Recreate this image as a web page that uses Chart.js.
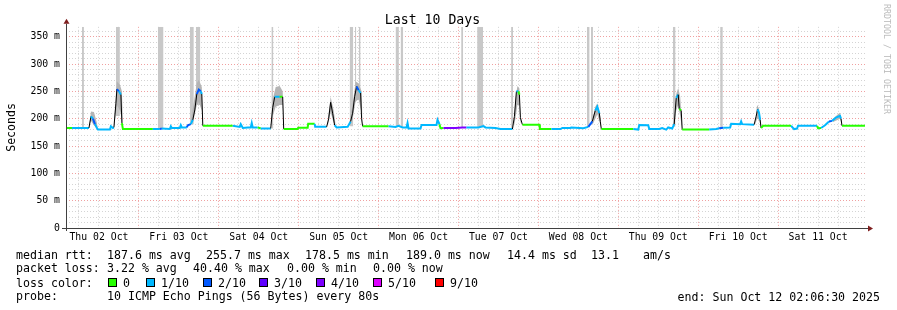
<!DOCTYPE html>
<html>
<head>
<meta charset="utf-8">
<script src="https://cdn.jsdelivr.net/npm/chart.js@4.4.1/dist/chart.umd.min.js"></script>
<style>
    body { margin: 0; background: #fff; }
    #wrap { position: relative; width: 897px; height: 310px; font-family: "DejaVu Sans Mono", monospace; font-size: 11.6px; color: #000; }
    #c { position: absolute; left: 0; top: 0; }
    .t { position: absolute; white-space: pre; line-height: 14px; }
    .box { position: absolute; width: 7px; height: 7px; border: 1px solid #000; }
    #brand { position: absolute; left: 892px; top: 4px; transform-origin: 0 0; transform: rotate(90deg); font-size: 8.3px; line-height: 10px; color: #bbb; white-space: pre; }
</style>
</head>
<body>
<div id="wrap">
    <canvas id="c" width="897" height="310"></canvas>
    <div id="brand">RRDTOOL / TOBI OETIKER</div>
    <div class="t" style="left:16px;top:248px">median rtt:</div>
    <div class="t" style="left:107px;top:248px">187.6 ms avg</div>
    <div class="t" style="left:206px;top:248px">255.7 ms max</div>
    <div class="t" style="left:305px;top:248px">178.5 ms min</div>
    <div class="t" style="left:406px;top:248px">189.0 ms now</div>
    <div class="t" style="left:507px;top:248px">14.4 ms sd</div>
    <div class="t" style="left:591px;top:248px">13.1</div>
    <div class="t" style="left:643px;top:248px">am/s</div>
    <div class="t" style="left:16px;top:261px">packet loss:</div>
    <div class="t" style="left:107px;top:261px">3.22 % avg</div>
    <div class="t" style="left:193px;top:261px">40.40 % max</div>
    <div class="t" style="left:287px;top:261px">0.00 % min</div>
    <div class="t" style="left:373px;top:261px">0.00 % now</div>
    <div class="t" style="left:16px;top:276px">loss color:</div>
    <div id="lossLegend"></div>
    <div class="t" style="left:16px;top:289px">probe:</div>
    <div class="t" style="left:107px;top:289px">10 ICMP Echo Pings (56 Bytes) every 80s</div>
    <div class="t" style="right:17px;top:290px">end: Sun Oct 12 02:06:30 2025</div>
</div>
<script>
// дни недели (подпись в полдень каждого дня), часы отсчитываются от Thu 02 Oct 00:00
const dayLabels = ['Thu 02 Oct', 'Fri 03 Oct', 'Sat 04 Oct', 'Sun 05 Oct', 'Mon 06 Oct',
    'Tue 07 Oct', 'Wed 08 Oct', 'Thu 09 Oct', 'Fri 10 Oct', 'Sat 11 Oct'];
const startHour = 2.108;
const endHour = 242.108;

// медиана rtt (ms) и потери (в десятых) для каждой точки
const medianHours = [
    2.4, 3.9, 9.0, 9.6, 10.2, 10.8, 11.4, 11.7, 15.3, 15.6, 16.2, 16.5, 17.1, 17.4, 18.0, 18.6, 18.9, 19.2,
    28.2, 30.3, 30.9, 33.3, 33.6, 33.9, 36.3, 36.6, 36.9, 38.4, 38.7, 39.6, 40.2, 40.8, 41.4, 42.0, 42.6, 42.9, 43.2,
    52.2, 54.3, 54.6, 55.2, 56.7, 57.6, 57.9, 58.2, 59.7, 60.6, 63.6, 64.2, 64.8, 66.3, 67.2, 67.5,
    71.7, 71.85, 74.7, 74.85, 76.8, 76.95, 80.4, 81.0, 81.6, 82.2, 82.8, 83.4, 86.7,
    87.6, 88.2, 88.8, 89.4, 90.0, 90.6, 90.9, 91.2,
    99.0, 101.1, 102.0, 103.2, 104.4, 104.7, 105.0, 108.6, 108.9, 113.4, 113.7, 114.3, 114.6,
    115.5, 119.1, 121.2, 122.4, 126.0, 127.5, 128.1, 131.1, 132.6, 136.2,
    136.8, 137.4, 138.0, 138.3, 138.6, 139.2, 144.3, 144.45,
    147.9, 150.6, 151.2, 153.6, 153.9, 157.5, 159.0, 160.2, 161.1, 161.7, 162.3, 162.6, 162.9,
    172.5, 174.0, 174.3, 177.0, 177.3, 180.3, 181.2, 182.4, 183.0, 184.2, 184.8, 185.4, 186.0, 186.3, 186.9, 187.2,
    195.3, 197.4, 198.3, 199.5, 201.6, 201.9, 204.6, 204.9, 205.2, 208.8, 209.4, 209.85, 210.3, 210.6,
    210.9, 211.5, 219.9, 220.8, 221.7, 222.0, 227.7, 228.0, 228.9, 230.1, 231.3, 232.2, 233.4, 234.6, 234.9, 235.2, 242.1
];
const medianMs = [
    183, 183, 183, 204, 200, 190, 183, 180, 180, 186, 183, 184, 228, 254, 250, 244, 192, 181,
    181, 181, 182, 181, 186, 183, 183, 188, 184, 184, 188, 190, 198, 216, 245, 253, 250, 245, 187,
    187, 185, 190, 183, 184, 184, 192, 184, 184, 182, 182, 220, 240, 240, 240, 181,
    181, 183.5, 183.5, 190.5, 190.5, 185, 185, 200, 230, 210, 188, 184, 185,
    195, 210, 240, 259, 252, 247, 200, 186,
    186, 185, 187, 184, 184, 192, 182, 182, 188.5, 188.5, 198, 190, 182.5,
    183, 183, 184, 184, 184, 186.5, 184, 183, 181, 181,
    204, 250, 250, 244, 202, 189, 189, 181,
    181, 181, 183, 183, 184, 182.5, 185, 195, 215, 222, 210, 195, 181,
    181, 180, 188.5, 188, 181, 181, 183, 180, 184, 182, 190, 238, 244, 218, 215, 180,
    180, 181, 182.5, 183.5, 184, 190.5, 190, 195, 190, 189, 204, 217, 210, 198,
    183, 187, 187, 181, 182, 187, 187, 182.5, 183, 188, 195, 196, 202, 205, 200, 187, 187
];
const medianLoss = [
    0, 1, 1, 1, 2, 1, 1, 1, 1, 1, 1, 1, 1, 2, 1, 1, 0, 0,
    1, 2, 1, 1, 1, 1, 1, 1, 1, 2, 2, 1, 1, 1, 2, 2, 1, 1, 0,
    1, 1, 1, 1, 1, 1, 1, 1, 0, 1, 1, 1, 1, 0, 0, 0,
    0, 0, 0, 0, 1, 1, 1, 1, 1, 1, 1, 1, 1,
    1, 1, 2, 2, 1, 0, 0, 0,
    1, 1, 1, 1, 1, 1, 1, 1, 1, 1, 1, 0, 0,
    4, 4, 4, 1, 1, 1, 1, 1, 1, 1,
    1, 1, 0, 0, 0, 0, 0, 0,
    1, 1, 1, 1, 1, 1, 2, 1, 1, 1, 0, 0, 0,
    1, 1, 1, 1, 1, 1, 1, 1, 1, 1, 1, 1, 1, 0, 0, 0,
    1, 1, 2, 1, 1, 1, 1, 1, 1, 1, 1, 1, 1, 1,
    0, 0, 1, 1, 1, 1, 0, 0, 1, 1, 2, 1, 1, 1, 0, 0, 0
];

// "дым" - разброс пингов вокруг медианы (null разделяет пики)
const smokeHours = [
    9.0, 9.6, 10.5, 11.4, 11.7, 11.8,
    16.5, 17.1, 17.4, 18.3, 18.9, 19.2, 19.3,
    39.6, 40.5, 41.4, 42.0, 42.9, 43.2, 43.3,
    63.6, 64.2, 65.1, 66.3, 67.2, 67.5, 67.6,
    80.7, 81.6, 82.5, 83.1, 83.2,
    87.3, 88.2, 89.1, 90.0, 90.9, 91.2, 91.3,
    136.5, 137.1, 137.7, 138.3, 138.6, 138.9, 139.0,
    160.2, 161.1, 161.7, 162.6, 162.9, 163.0,
    184.8, 185.4, 186.0, 186.6, 187.2, 187.3,
    209.1, 209.7, 210.3, 210.9, 211.0,
    232.5, 234.0, 234.6, 235.2
];
const smokeHi = [
    183, 213, 212, 192, 180, null,
    186, 245, 268, 262, 250, 190, null,
    195, 230, 265, 271, 258, 195, null,
    185, 235, 258, 260, 250, 185, null,
    195, 240, 215, 190, null,
    195, 225, 268, 265, 250, 190, null,
    185, 235, 260, 255, 205, 190, null,
    198, 222, 228, 205, 185, null,
    195, 245, 256, 240, 185, null,
    195, 225, 218, 190, null,
    200, 208, 211, 190
];
const smokeLo = [
    183, 196, 188, 182, 180, null,
    183, 210, 225, 215, 200, 181, null,
    188, 200, 225, 230, 215, 187, null,
    182, 205, 222, 225, 225, 181, null,
    185, 212, 192, 184, null,
    186, 200, 232, 235, 210, 186, null,
    181, 200, 225, 225, 195, 189, null,
    188, 200, 208, 190, 181, null,
    185, 215, 225, 205, 180, null,
    189, 200, 198, 183, null,
    194, 198, 200, 187
];

// интервалы с потерями (серые полосы до верха графика)
const lossBarStart = [6.9, 17.1, 29.7, 39.3, 41.1, 63.8, 87.3, 88.9, 90.1, 101.1, 102.6, 120.8, 125.6, 135.8, 158.6, 159.8, 184.4, 198.6];
const lossBarEnd = [7.5, 18.3, 31.4, 40.5, 42.45, 64.4, 88.4, 89.3, 90.6, 102.1, 103.4, 121.4, 127.4, 136.4, 159.4, 160.4, 185.2, 199.4];
const lossBarBase = [183, 205, 181, 190, 225, 182, 186, 230, 235, 185, 185, 184, 184, 181, 185, 190, 185, 183];

const lossColors = ['#26ff00', '#00b8ff', '#0059ff', '#5e00ff', '#7e00ff', '#dd00ff', '#ff0000', '#ff0000', '#ff0000', '#ff0000'];
const legendLabels = ['0', '1/10', '2/10', '3/10', '4/10', '5/10', '9/10'];
const legendTenths = [0, 1, 2, 3, 4, 5, 9];
const legendX = [108, 146, 203, 259, 316, 373, 435];

// легенда цветов потерь
const lossLegend = document.getElementById('lossLegend');
legendLabels.forEach((label, i) => {
    const box = document.createElement('div');
    box.className = 'box';
    box.style.left = legendX[i] + 'px';
    box.style.top = '278px';
    box.style.background = lossColors[legendTenths[i]];
    lossLegend.appendChild(box);
    const txt = document.createElement('div');
    txt.className = 't';
    txt.style.left = (legendX[i] + 15) + 'px';
    txt.style.top = '276px';
    txt.textContent = label;
    lossLegend.appendChild(txt);
});

const medianPoints = medianHours.map((h, i) => ({ x: h, y: medianMs[i] }));
const smokeHiPoints = smokeHours.map((h, i) => ({ x: h, y: smokeHi[i] }));
const smokeLoPoints = smokeHours.map((h, i) => ({ x: h, y: smokeLo[i] }));
const lossBarPoints = [];
lossBarStart.forEach((s, i) => {
    lossBarPoints.push({ x: s, y: lossBarBase[i] }, { x: lossBarEnd[i], y: lossBarBase[i] }, { x: lossBarEnd[i], y: null });
});

const gridHours = [];
dayLabels.forEach((d, i) => {
    for (let q = 0; q < 4; q++) {
        const h = i * 24 + q * 6;
        if (h > startHour && h < endHour) gridHours.push(h);
    }
});
const yGrid = [];
for (let v = 0; v <= 360; v += 10) yGrid.push(v);

// стрелки и линии осей как в rrdtool
const axisArrows = {
    id: 'axisArrows',
    afterDatasetsDraw(chart) {
        const { ctx, chartArea: a } = chart;
        ctx.save();
        ctx.strokeStyle = '#404040';
        ctx.lineWidth = 1;
        ctx.beginPath();
        ctx.moveTo(a.left - 4, Math.round(a.bottom) + 0.5);
        ctx.lineTo(a.right + 3, Math.round(a.bottom) + 0.5);
        ctx.moveTo(Math.round(a.left) + 0.5, a.bottom + 3);
        ctx.lineTo(Math.round(a.left) + 0.5, a.top - 3);
        ctx.stroke();
        ctx.fillStyle = '#7f1f1f';
        const lx = Math.round(a.left) + 0.5;
        ctx.beginPath();
        ctx.moveTo(lx, a.top - 8);
        ctx.lineTo(lx - 3, a.top - 3);
        ctx.lineTo(lx + 3, a.top - 3);
        ctx.fill();
        const by = Math.round(a.bottom) + 0.5;
        ctx.beginPath();
        ctx.moveTo(a.right + 8, by);
        ctx.lineTo(a.right + 3, by - 3);
        ctx.lineTo(a.right + 3, by + 3);
        ctx.fill();
        ctx.restore();
    }
};

const mono = 'DejaVu Sans Mono';

new Chart(document.getElementById('c'), {
    data: {
        datasets: [
            {
                type: 'line',
                data: medianPoints,
                borderColor: '#000',
                borderWidth: 2,
                pointRadius: 0,
                tension: 0,
                segment: {
                    borderColor: c => Math.abs(c.p1.parsed.y - c.p0.parsed.y) > 12 ? '#000' : lossColors[medianLoss[c.p0DataIndex]],
                    borderWidth: c => Math.abs(c.p1.parsed.y - c.p0.parsed.y) > 12 ? 1 : 2
                }
            },
            {
                type: 'line',
                data: smokeHiPoints,
                borderWidth: 0,
                pointRadius: 0,
                backgroundColor: '#b4b4b4',
                fill: '+1'
            },
            {
                type: 'line',
                data: smokeLoPoints,
                borderWidth: 0,
                pointRadius: 0,
                fill: false
            },
            {
                type: 'line',
                data: lossBarPoints,
                borderWidth: 0,
                pointRadius: 0,
                backgroundColor: '#c8c8c8',
                fill: 'end'
            }
        ]
    },
    options: {
        responsive: false,
        animation: false,
        layout: { padding: { left: 0, right: 32, top: 0, bottom: 0 } },
        plugins: {
            legend: { display: false },
            tooltip: { enabled: false },
            title: {
                display: true,
                text: 'Last 10 Days',
                color: '#000',
                font: { family: mono, size: 13.2, weight: 'normal' },
                padding: { top: 13, bottom: -2 }
            }
        },
        scales: {
            x: {
                type: 'linear',
                min: startHour,
                max: endHour,
                afterBuildTicks: s => { s.ticks = gridHours.map(v => ({ value: v })); },
                afterFit: s => { s.height = 82; },
                grid: {
                    drawTicks: false,
                    color: c => c.tick && c.tick.value % 24 === 0 ? '#f0a0a0' : '#d4d4d4'
                },
                border: { display: false, dash: [1, 2] },
                ticks: {
                    autoSkip: false,
                    maxRotation: 0,
                    padding: 4,
                    color: '#000',
                    font: { family: mono, size: 9.8 },
                    callback: v => v % 24 === 12 ? dayLabels[(v - 12) / 24] : ''
                }
            },
            y: {
                min: 0,
                max: 368,
                afterBuildTicks: s => { s.ticks = yGrid.map(v => ({ value: v })); },
                afterFit: s => { s.width = 66; },
                grid: {
                    drawTicks: false,
                    color: c => c.tick && c.tick.value % 50 === 0 ? '#f0a0a0' : '#d4d4d4'
                },
                border: { display: false, dash: [1, 2] },
                title: {
                    display: true,
                    text: 'Seconds',
                    color: '#000',
                    font: { family: mono, size: 11.6 },
                    padding: { top: 5, bottom: 0 }
                },
                ticks: {
                    autoSkip: false,
                    padding: 6,
                    color: '#000',
                    font: { family: mono, size: 9.8 },
                    callback: v => v % 50 !== 0 ? '' : (v === 0 ? '0' : v + ' m')
                }
            }
        }
    },
    plugins: [axisArrows]
});
</script>
</body>
</html>
